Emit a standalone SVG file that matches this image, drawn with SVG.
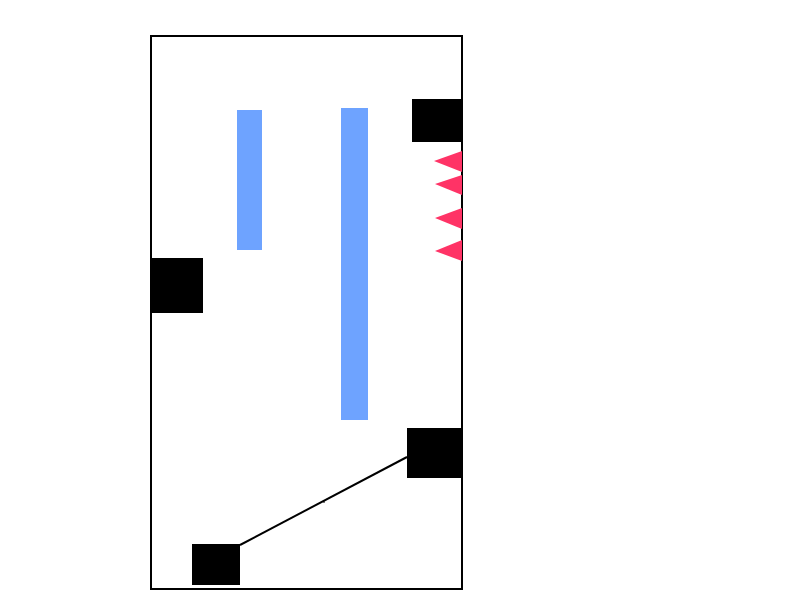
<svg xmlns="http://www.w3.org/2000/svg" width="800" height="600" viewBox="0 0 800 600">
<style>
.frame{fill:none;stroke:#000;stroke-width:2}
.blk{fill:#000}
.bar{fill:#6ea3ff}
.tri{fill:#ff3366}
.conn{stroke:#000;stroke-width:2;fill:none}
</style>
<rect width="800" height="600" fill="#fff"/>
<rect class="frame" x="151" y="36" width="311" height="553"/>
<g id="bar1"><rect class="bar" x="237" y="110" width="25" height="140"/></g>
<g id="bar2"><rect class="bar" x="341" y="108" width="27" height="312"/></g>
<g id="node-top-right"><rect class="blk" x="412" y="99" width="50" height="43"/></g>
<g id="node-left"><rect class="blk" x="151" y="258" width="52" height="55"/></g>
<g id="node-bottom-right"><rect class="blk" x="407" y="428" width="55" height="50"/></g>
<g id="node-bottom-left"><rect class="blk" x="192" y="544" width="48" height="41"/></g>
<g id="triangles">
<polygon class="tri" points="462,151 434,161 462,172"/>
<polygon class="tri" points="462,175 435,184 462,195"/>
<polygon class="tri" points="462,208 435,218 462,229"/>
<polygon class="tri" points="462,240 435,251 462,261"/>
</g>
<g id="connectors">
<line class="conn" x1="240" y1="545" x2="407" y2="457"/>
<line stroke="#000" stroke-width="1" x1="324" y1="500" x2="324" y2="503"/>
</g>
</svg>
